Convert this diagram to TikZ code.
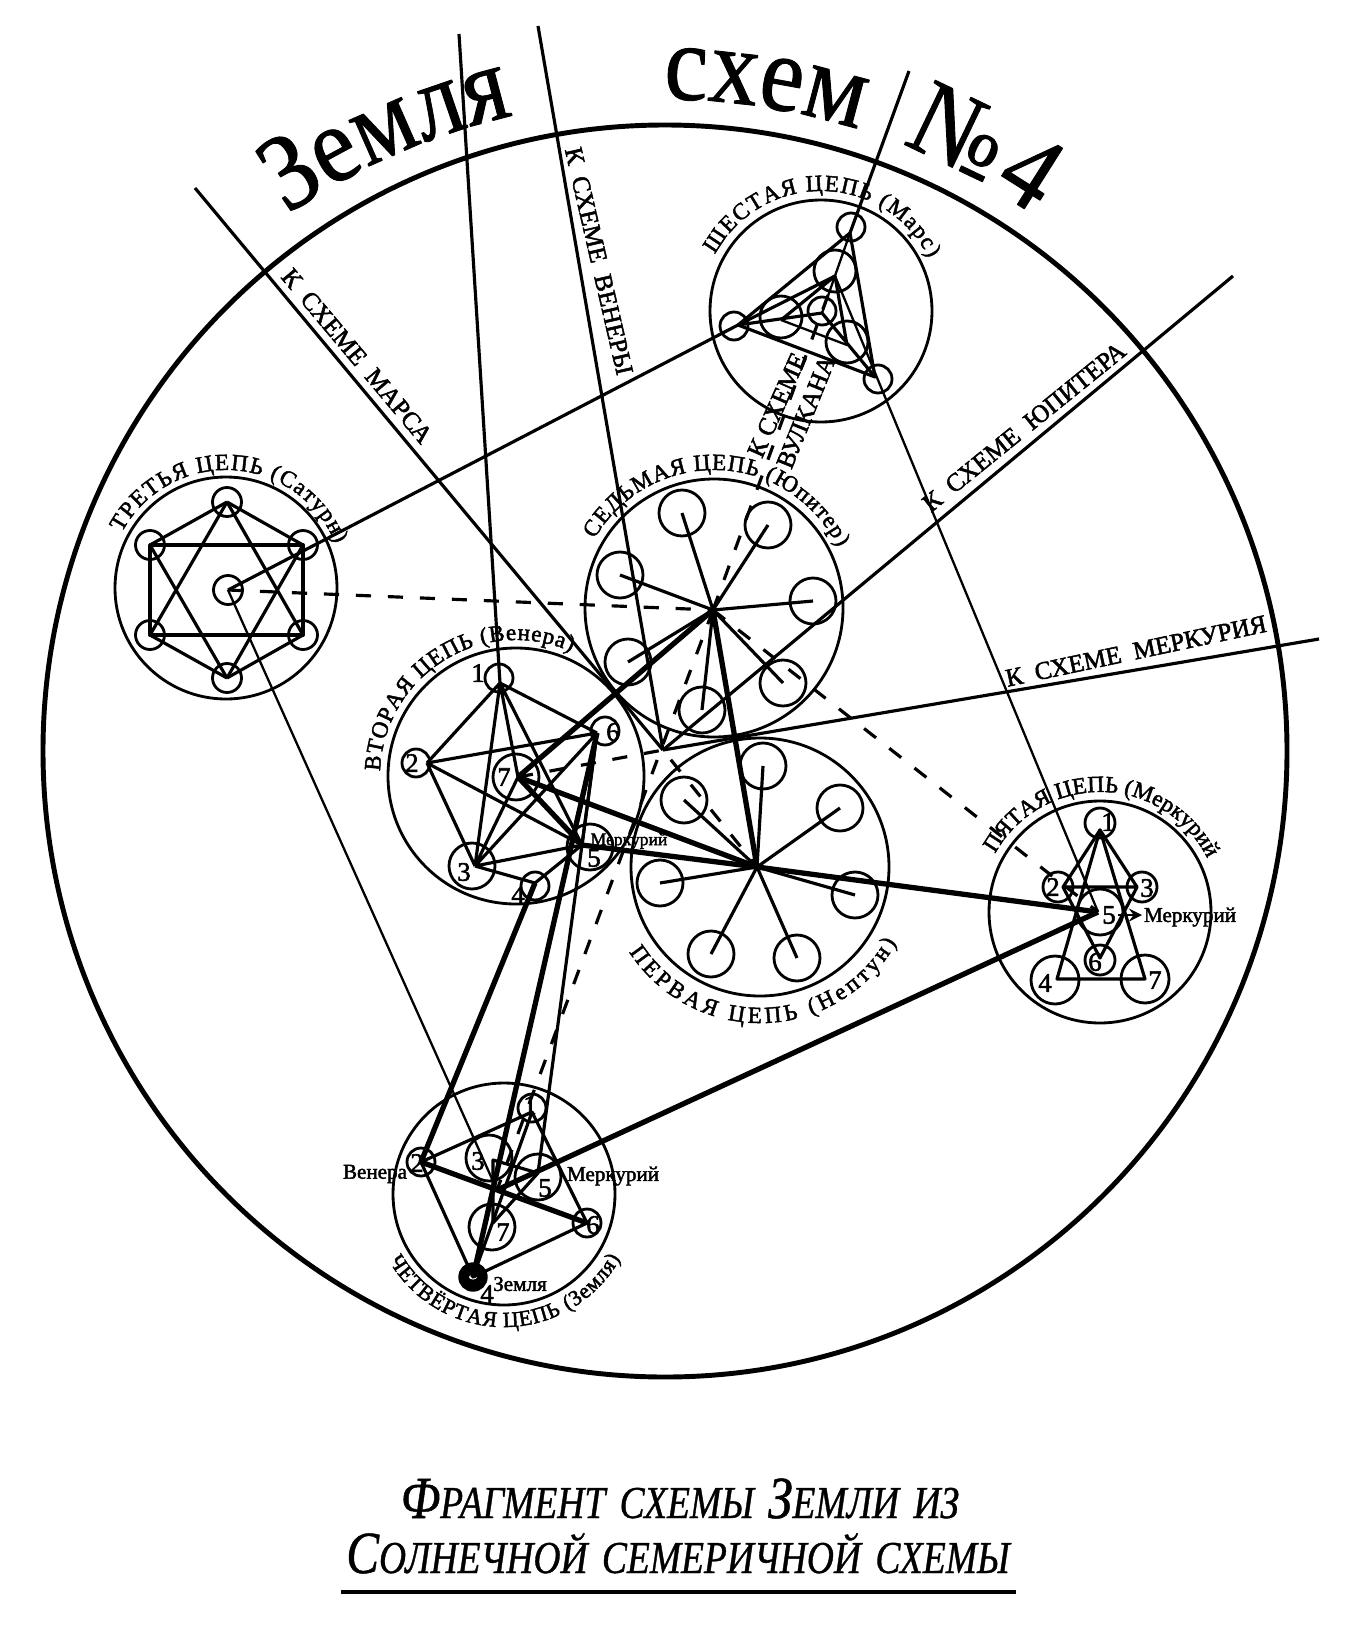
\documentclass[tikz,border=0pt]{standalone}
\usepackage{fontspec}
\setmainfont{Liberation Serif}
\newfontfamily\titlefont[FakeStretch=0.9,FakeBold=0.8]{Liberation Serif}
\newfontfamily\inkfont[FakeBold=2]{Liberation Serif}
\newfontfamily\capfont[FakeStretch=0.82,FakeBold=0.8]{Liberation Serif}
\usetikzlibrary{decorations.text}
\newcommand{\arclabel}[6]{% centre, radius, from, to, font, text
  \path[decorate,decoration={text along path,text={|#5|#6},text align=fit to path}]
    (#1) ++(#3:#2) arc (#3:#4:#2);}
\newcommand{\lblfont}{\inkfont\fontsize{6.6pt}{8pt}\selectfont}
\newcommand{\earthfont}{\inkfont\fontsize{6.2pt}{8pt}\selectfont}
\newcommand{\bigfont}{\titlefont\fontsize{31pt}{32pt}\selectfont}
\newcommand{\capword}[2]{{\fontsize{17pt}{18pt}\selectfont #1}{\fontsize{13pt}{18pt}\selectfont #2}}
\tikzset{
  thinline/.style={line width=0.65pt},
  midline/.style={line width=0.9pt},
  rectline/.style={line width=1.1pt},
  thickline/.style={line width=1.5pt},
  dashline/.style={line width=0.9pt,dash pattern=on 4.3pt off 4.8pt},
  numlabel/.style={font=\inkfont\fontsize{7.6pt}{8pt}\selectfont,inner sep=0pt},
  smalllabel/.style={font=\inkfont\fontsize{6pt}{6pt}\selectfont,inner sep=0pt},
  schemelabel/.style={font=\inkfont\fontsize{7.2pt}{8pt}\selectfont,inner sep=0pt},
}
\begin{document}
\begin{tikzpicture}[x=0.01cm,y=-0.01cm,line join=round]
  \useasboundingbox (0,0) rectangle (1360,1630);
  % chains
  \coordinate (sun) at (660,757);
  \coordinate (ne) at (760,867);
  \coordinate (ju) at (714,608);
  \coordinate (ve) at (516,776);
  \coordinate (sa) at (226,588);
  \coordinate (ma) at (821,311);
  \coordinate (me) at (1100,912);
  \coordinate (ea) at (504,1194);
  \coordinate (star) at (663,750);
  \draw[line width=1.4pt] (665,751) ellipse (622 and 626);
  \foreach \c/\r in {ne/129,ju/129,ve/128,sa/111,ma/111,me/111,ea/111}
    \draw[line width=0.8pt] (\c) circle (\r);
  % rings: Neptune and Jupiter
  \foreach \x/\y in {763/766,840/808,855/895,797/958,711/954,660/883,684/800,
                     682/513,768/525,813/601,783/683,702/710,628/662,620/575}
    \draw[line width=0.8pt] (\x,\y) circle (23);
  \coordinate (nehub) at (757,867);
  \coordinate (juhub) at (713,610);
  \foreach \x/\y in {763/766,840/808,855/895,797/958,711/954,660/883,684/800}
    \draw[midline] (nehub) -- (\x,\y);
  \foreach \x/\y in {682/513,768/525,813/601,783/683,702/710,628/662,620/575}
    \draw[midline] (juhub) -- (\x,\y);
  % Saturn
  \coordinate (sa1) at (227,502);
  \coordinate (sa2) at (303,545);
  \coordinate (sa3) at (303,635);
  \coordinate (sa4) at (227,678);
  \coordinate (sa5) at (150,635);
  \coordinate (sa6) at (150,545);
  \coordinate (sahub) at (228,590);
  \foreach \c in {sa1,sa2,sa3,sa4,sa5,sa6,sahub}
    \draw[line width=0.8pt] (\c) circle (14.5);
  \draw[midline] (sa1) -- (sa2) (sa1) -- (sa6) (sa4) -- (sa3) (sa4) -- (sa5);
  \draw[rectline] (sa6) -- (sa2) -- (sa3) -- (sa5) -- cycle;
  \draw[midline] (sa1) -- (sa5) (sa1) -- (sa3) (sa4) -- (sa6) (sa4) -- (sa2);
  % Mars
  \coordinate (maa) at (850,233);
  \coordinate (mab) at (738,325);
  \coordinate (mac) at (875,377);
  \coordinate (mad) at (835,276);
  \coordinate (mae) at (781,320);
  \coordinate (maf) at (847,345);
  \coordinate (mahub) at (822,313);
  \foreach \x/\y/\r in {851/227/14,835/271/21,822/311/14,847/342/21,781/317/21,734/326/14,878/379/14}
    \draw[line width=0.8pt] (\x,\y) circle (\r);
  \draw[midline] (maa) -- (mab) -- (mac) -- cycle;
  \draw[midline] (mab) -- (mahub) -- (mac) (mab) -- (mad) (mad) -- (maf) (mad) -- (mae);
  \draw[thinline] (mae) -- (maf) (maa) -- (mahub);
  % Venus
  \coordinate (ve1) at (500,683);
  \coordinate (ve2) at (427,763);
  \coordinate (ve3) at (475,866);
  \coordinate (ve4) at (535,883);
  \coordinate (ve5) at (582,845);
  \coordinate (ve6) at (597,733);
  \coordinate (ve7) at (518,777);
  \foreach \x/\y/\r in {499/678/14,416/763/14,472/866/23,535/886/14,590/847/23,605/731/14,516/777/23}
    \draw[line width=0.8pt] (\x,\y) circle (\r);
  \draw[midline] (ve1) -- (ve2) (ve1) -- (ve3) (ve1) -- (ve7) (ve1) -- (ve5) (ve1) -- (ve6);
  \draw[midline] (ve2) -- (ve3) (ve2) -- (ve6) (ve2) -- (ve5);
  \draw[midline] (ve3) -- (ve7) (ve3) -- (ve6) (ve3) -- (ve5) (ve3) -- (ve4) (ve4) -- (ve5) (ve5) -- (ve6);
  \draw[thickline] (ve7) -- (ve5);
  % Mercury
  \coordinate (me1) at (1100,830);
  \coordinate (me2) at (1063,887);
  \coordinate (me3) at (1137,887);
  \coordinate (me4) at (1057,979);
  \coordinate (me5) at (1098,912);
  \coordinate (me6) at (1100,958);
  \coordinate (me7) at (1145,979);
  \foreach \x/\y/\r in {1100/823/15,1058/887/15,1142/887/15,1055/980/24,1100/912/23,1100/960/15,1145/979/24}
    \draw[line width=0.8pt] (\x,\y) circle (\r);
  \draw[midline] (me1) -- (me2) -- (me3) -- cycle (me2) -- (me6) -- (me3);
  \draw[midline] (me1) -- (me4) -- (me7) -- cycle;
  \draw[thinline,-stealth] (1118,915) -- (1142,915);
  % Earth
  \coordinate (ea1) at (532,1112);
  \coordinate (ea2) at (421,1162);
  \coordinate (ea3) at (493,1160);
  \coordinate (ea4) at (473,1277);
  \coordinate (ea5) at (538,1173);
  \coordinate (ea6) at (587,1223);
  \coordinate (ea7) at (493,1223);
  \coordinate (eahub) at (497,1190);
  \foreach \x/\y/\r in {532/1108/14,421/1162/14,489/1158/23,538/1177/23,587/1223/14,492/1227/23}
    \draw[line width=0.8pt] (\x,\y) circle (\r);
  \draw[fill=black] (ea4) circle (14);
  \fill[white] (ea4) ellipse (4 and 2.5);
  \draw[midline] (ea1) -- (ea2) -- (ea4) -- (ea6) -- (ea1) -- (ea4);
  \draw[thickline] (ea2) -- (ea6);
  \draw[midline] (ea3) -- (ea5) -- (ea7) -- cycle;
  % links between the chains
  \draw[thickline] (juhub) -- (ve7) (juhub) -- (nehub) (ve7) -- (nehub) -- (me5);
  \draw[thickline] (ve5) -- (nehub);
  \draw[thickline] (eahub) -- (me5);
  \draw[thickline] (ve6) -- (ea4) (ve4) -- (ea2);
  \draw[midline] (ve6) -- (ea5);
  \draw[midline] (sahub) -- (mab);
  \draw[thinline] (sahub) -- (eahub);
  \draw[thinline] (mad) -- (me5);
  \draw[dashline] (sahub) -- (juhub);
  \draw[dashline] (juhub) -- (me5);
  \draw[dashline] (juhub) -- (eahub);
  \draw[dashline] (juhub) -- (mad);
  \draw[dashline] (ve7) -- (star) -- (nehub);
  % lines out of the scheme
  \coordinate (tomars) at (195,188);
  \coordinate (tovenus) at (538,26);
  \coordinate (tomerc) at (1319,639);
  \coordinate (tojup) at (1233,276);
  \coordinate (tovenb) at (459,34);
  \coordinate (tomarb) at (909,71);
  \draw[midline] (tomars) -- (star);
  \draw[midline] (tovenus) -- (star);
  \draw[midline] (tomerc) -- (star);
  \draw[midline] (tojup) -- (star);
  \draw[midline] (tovenb) -- (ve1);
  \draw[midline] (tomarb) -- (maa);
  % texts on the lines
  \node[schemelabel,rotate=-50] (lblmars) at (357,356) {К\ \ СХЕМЕ\ \ МАРСА};
  \node[schemelabel,rotate=-77] (lblven) at (599,261) {К\ \ СХЕМЕ\ \ ВЕНЕРЫ};
  \node[schemelabel,rotate=39] (lbljup) at (1024,427) {К\ \ СХЕМЕ\ \ ЮПИТЕРА};
  \node[schemelabel,rotate=12] (lblmer) at (1136,651) {К\ \ СХЕМЕ\ \ МЕРКУРИЯ};
  \node[schemelabel,rotate=66] (lblvul) at (777,405) {К СХЕМЕ};
  \node[schemelabel,rotate=68] (lblvuk) at (806,412) {ВУЛКАНА};
  % chain names
  \arclabel{ve}{136}{-178}{-66}{\lblfont}{ВТОРАЯ ЦЕПЬ (Венера)}
  \arclabel{sa}{118}{-152}{-22}{\lblfont}{ТРЕТЬЯ ЦЕПЬ (Сатурн)}
  \arclabel{ma}{120}{-152}{-26}{\lblfont}{ШЕСТАЯ ЦЕПЬ (Марс)}
  \arclabel{ju}{138}{-150}{-26}{\lblfont}{СЕДЬМАЯ ЦЕПЬ (Юпитер)}
  \arclabel{me}{120}{-151}{-26}{\lblfont}{ПЯТАЯ ЦЕПЬ (Меркурий)}
  \arclabel{ne}{156}{147}{29}{\lblfont}{ПЕРВАЯ ЦЕПЬ (Нептун)}
  \arclabel{ea}{133}{150}{29}{\earthfont}{ЧЕТВЁРТАЯ ЦЕПЬ (Земля)}
  % title
  \arclabel{sun}{658}{-124.5}{-103}{\bigfont}{Земля}
  \arclabel{sun}{658}{-89.7}{-72}{\bigfont}{схема}
  \arclabel{sun}{658}{-68.5}{-55.5}{\bigfont}{№4}
  % numbers
  \foreach \t/\x/\y in {1/478/673,2/412/763,3/464/872,4/518/895,5/594/858,6/613/732,7/504/777,
                        1/1108/822,2/1053/887,3/1147/888,4/1045/983,5/1109/915,6/1095/962,7/1155/980,
                        1/530/1105,2/417/1163,3/478/1161,4/487/1294,5/545/1188,6/593/1225,7/503/1232}
    \node[numlabel] at (\x,\y) {\t};
  \node[smalllabel,font=\inkfont\fontsize{5pt}{6pt}\selectfont] (lblm1) at (629,841) {Меркурий};
  \node[smalllabel] (lblm2) at (1190,917) {Меркурий};
  \node[smalllabel] (lblm3) at (613,1176) {Меркурий};
  \node[smalllabel] (lblv) at (375,1174) {Венера};
  \node[smalllabel] (lble) at (520,1284) {Земля};
  % caption
  \node[font=\capfont\itshape,inner sep=0pt,anchor=base] (cap1) at (680,1518) {\capword{Ф}{РАГМЕНТ}\ \ \capword{}{СХЕМЫ}\ \ \capword{З}{ЕМЛИ}\ \ \capword{}{ИЗ}};
  \node[font=\capfont\itshape,inner sep=0pt,anchor=base] (cap2) at (678,1573) {\capword{С}{ОЛНЕЧНОЙ}\ \ \capword{}{СЕМЕРИЧНОЙ}\ \ \capword{}{СХЕМЫ}};
  \coordinate (ula) at (341,1592);
  \coordinate (ulb) at (1016,1592);
  \draw[line width=1.1pt] (ula) -- (ulb);
\end{tikzpicture}
\end{document}
